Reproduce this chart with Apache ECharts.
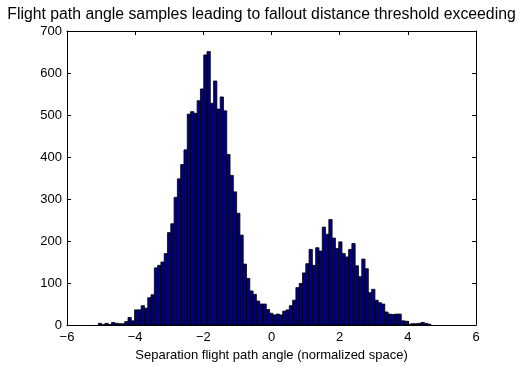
<!DOCTYPE html>
<html>
<head>
<meta charset="utf-8">
<script src="https://cdn.jsdelivr.net/npm/echarts@6/dist/echarts.min.js"></script>
<style>
html,body{margin:0;padding:0;background:#fff;}
#chart{width:523px;height:370px;}
</style>
</head>
<body>
<div id="chart"></div>
<script>
// Histogram data
const titleText = 'Flight path angle samples leading to fallout distance threshold exceeding';
const xLabel = 'Separation flight path angle (normalized space)';
const binStart = -5.08;
const binWidth = 0.0966;
const counts = [4,1,4,1,6,4,3,3,8,18,10,36,36,46,40,65,72,136,142,150,170,220,241,304,348,382,417,502,508,504,534,562,643,651,528,581,514,543,510,406,356,317,266,214,145,111,81,73,57,50,50,37,28,24,26,24,33,36,46,59,89,99,124,146,180,142,184,176,233,216,251,207,182,198,170,162,180,194,141,115,157,134,77,85,59,53,50,31,26,25,26,26,10,9,2,3,3,4,6,4,2];
const xTicks = [-6,-4,-2,0,2,4,6];
const yTicks = [0,100,200,300,400,500,600,700];

const data = counts.map((c, i) => [binStart + i * binWidth, c]);
const font = 'Liberation Sans, Arial, Helvetica, sans-serif';
const fmt = v => String(v).replace('-', '\u2212');

const chart = echarts.init(document.getElementById('chart'), null, {renderer: 'canvas'});
const axisCommon = {
  axisLine: {show: true, onZero: false, lineStyle: {color: '#000', width: 1}},
  axisTick: {show: true, inside: true, length: 4, lineStyle: {color: '#000', width: 1}},
  splitLine: {show: false}
};
chart.setOption({
  animation: false,
  backgroundColor: '#fff',
  title: {
    text: titleText, left: 'center', top: 2,
    textStyle: {fontFamily: font, fontSize: 15.8, fontWeight: 'normal', color: '#000'}
  },
  grid: {left: 67, right: 47, top: 31, bottom: 45},
  xAxis: [
    Object.assign({
      type: 'value', min: xTicks[0], max: xTicks[xTicks.length - 1], interval: 2, position: 'bottom',
      name: xLabel, nameLocation: 'middle', nameGap: 23,
      nameTextStyle: {fontFamily: font, fontSize: 13, color: '#000'},
      axisLabel: {fontFamily: font, fontSize: 13, color: '#000', margin: 6, formatter: fmt}
    }, axisCommon),
    Object.assign({
      type: 'value', min: xTicks[0], max: xTicks[xTicks.length - 1], interval: 2, position: 'top',
      axisLabel: {show: false}
    }, axisCommon)
  ],
  yAxis: [
    Object.assign({
      type: 'value', min: yTicks[0], max: yTicks[yTicks.length - 1], interval: 100, position: 'left',
      axisLabel: {fontFamily: font, fontSize: 13, color: '#000', margin: 5, formatter: fmt}
    }, axisCommon),
    Object.assign({
      type: 'value', min: yTicks[0], max: yTicks[yTicks.length - 1], interval: 100, position: 'right',
      axisLabel: {show: false}
    }, axisCommon)
  ],
  series: [{
    type: 'custom',
    xAxisIndex: 0, yAxisIndex: 0,
    data: data,
    renderItem: function (params, api) {
      const x0 = api.value(0), y = api.value(1);
      const p0 = api.coord([x0, y]);
      const p1 = api.coord([x0 + binWidth, 0]);
      return {
        type: 'rect',
        shape: {x: p0[0], y: p0[1], width: p1[0] - p0[0], height: p1[1] - p0[1]},
        style: {fill: '#000080', stroke: '#000', lineWidth: 0.8}
      };
    }
  }]
});
</script>
</body>
</html>
